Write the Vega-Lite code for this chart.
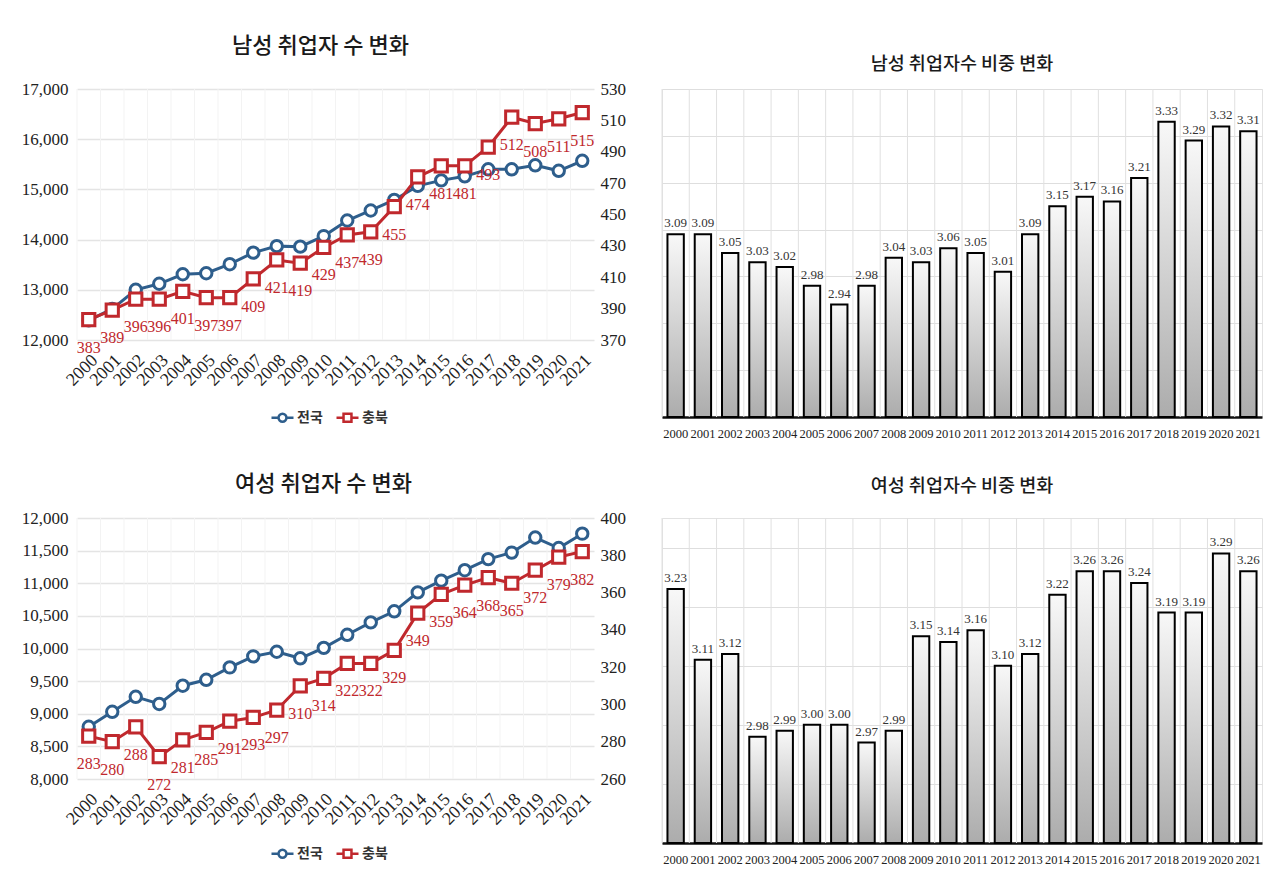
{
  "$schema": "https://vega.github.io/schema/vega-lite/v6.json",
  "autosize": {"type": "pad"},
  "padding": {"left": 21, "top": 35, "right": 0, "bottom": 0},
  "background": "white",
  "datasets": {
    "men": [
      {"year": "2000", "nat": 12390, "cb": 383, "share": 3.09},
      {"year": "2001", "nat": 12620, "cb": 389, "share": 3.09},
      {"year": "2002", "nat": 13000, "cb": 396, "share": 3.05},
      {"year": "2003", "nat": 13120, "cb": 396, "share": 3.03},
      {"year": "2004", "nat": 13310, "cb": 401, "share": 3.02},
      {"year": "2005", "nat": 13330, "cb": 397, "share": 2.98},
      {"year": "2006", "nat": 13510, "cb": 397, "share": 2.94},
      {"year": "2007", "nat": 13740, "cb": 409, "share": 2.98},
      {"year": "2008", "nat": 13870, "cb": 421, "share": 3.04},
      {"year": "2009", "nat": 13860, "cb": 419, "share": 3.03},
      {"year": "2010", "nat": 14070, "cb": 429, "share": 3.06},
      {"year": "2011", "nat": 14380, "cb": 437, "share": 3.05},
      {"year": "2012", "nat": 14580, "cb": 439, "share": 3.01},
      {"year": "2013", "nat": 14790, "cb": 455, "share": 3.09},
      {"year": "2014", "nat": 15070, "cb": 474, "share": 3.15},
      {"year": "2015", "nat": 15180, "cb": 481, "share": 3.17},
      {"year": "2016", "nat": 15260, "cb": 481, "share": 3.16},
      {"year": "2017", "nat": 15400, "cb": 493, "share": 3.21},
      {"year": "2018", "nat": 15400, "cb": 512, "share": 3.33},
      {"year": "2019", "nat": 15480, "cb": 508, "share": 3.29},
      {"year": "2020", "nat": 15370, "cb": 511, "share": 3.32},
      {"year": "2021", "nat": 15570, "cb": 515, "share": 3.31}
    ],
    "women": [
      {"year": "2000", "nat": 8800, "cb": 283, "share": 3.23},
      {"year": "2001", "nat": 9030, "cb": 280, "share": 3.11},
      {"year": "2002", "nat": 9260, "cb": 288, "share": 3.12},
      {"year": "2003", "nat": 9150, "cb": 272, "share": 2.98},
      {"year": "2004", "nat": 9430, "cb": 281, "share": 2.99},
      {"year": "2005", "nat": 9520, "cb": 285, "share": 3.00},
      {"year": "2006", "nat": 9710, "cb": 291, "share": 3.00},
      {"year": "2007", "nat": 9880, "cb": 293, "share": 2.97},
      {"year": "2008", "nat": 9950, "cb": 297, "share": 2.99},
      {"year": "2009", "nat": 9850, "cb": 310, "share": 3.15},
      {"year": "2010", "nat": 10010, "cb": 314, "share": 3.14},
      {"year": "2011", "nat": 10210, "cb": 322, "share": 3.16},
      {"year": "2012", "nat": 10400, "cb": 322, "share": 3.10},
      {"year": "2013", "nat": 10570, "cb": 329, "share": 3.12},
      {"year": "2014", "nat": 10860, "cb": 349, "share": 3.22},
      {"year": "2015", "nat": 11040, "cb": 359, "share": 3.26},
      {"year": "2016", "nat": 11200, "cb": 364, "share": 3.26},
      {"year": "2017", "nat": 11370, "cb": 368, "share": 3.24},
      {"year": "2018", "nat": 11470, "cb": 365, "share": 3.19},
      {"year": "2019", "nat": 11700, "cb": 372, "share": 3.19},
      {"year": "2020", "nat": 11540, "cb": 379, "share": 3.29},
      {"year": "2021", "nat": 11760, "cb": 382, "share": 3.26}
    ]
  },
  "concat": [
    {
      "width": 517, "height": 251,
      "title": {"text": "남성 취업자 수 변화", "font": "Noto Sans CJK KR", "fontSize": 22, "fontWeight": 500, "color": "#1a1a1a", "offset": 22, "anchor": "middle", "dx": -15},
      "data": {"name": "men"},
      "layer": [
        {"mark": {"type": "rule", "color": "#f3f3f3", "strokeWidth": 1},
         "encoding": {"x": {"field": "year", "type": "ordinal", "bandPosition": 0, "scale": {"type": "band", "paddingInner": 0, "paddingOuter": 0},
           "axis": {"title": null, "labelAngle": -45, "labelFont": "Liberation Serif", "labelFontSize": 18, "labelColor": "#222", "domain": false, "ticks": false, "grid": false, "labelPadding": 11}}}},
        {"encoding": {"x": {"field": "year", "type": "ordinal", "bandPosition": 0.5},
           "y": {"field": "nat", "type": "quantitative", "scale": {"domain": [12000, 17000], "nice": false, "zero": false},
             "axis": {"orient": "left", "title": null, "values": [12000, 13000, 14000, 15000, 16000, 17000], "format": ",.0f", "grid": true, "gridColor": "#e4e4e4", "gridWidth": 1.5, "domain": false, "ticks": false, "labelFont": "Liberation Serif", "labelFontSize": 17, "labelColor": "#222", "labelPadding": 9}}},
         "layer": [
           {"mark": {"type": "line", "color": "#2e5e8c", "strokeWidth": 3}},
           {"mark": {"type": "point", "shape": "circle", "filled": true, "fill": "white", "stroke": "#2e5e8c", "strokeWidth": 3, "size": 130, "opacity": 1}}
         ]},
        {"encoding": {"x": {"field": "year", "type": "ordinal", "bandPosition": 0.5},
           "y": {"field": "cb", "type": "quantitative", "scale": {"domain": [370, 530], "nice": false, "zero": false},
             "axis": {"orient": "right", "title": null, "values": [370, 390, 410, 430, 450, 470, 490, 510, 530], "format": ".0f", "grid": false, "domain": false, "ticks": false, "labelFont": "Liberation Serif", "labelFontSize": 17, "labelColor": "#222", "labelPadding": 6}}},
         "layer": [
           {"mark": {"type": "line", "color": "#c0282d", "strokeWidth": 3}},
           {"mark": {"type": "point", "shape": "square", "filled": true, "fill": "white", "stroke": "#c0282d", "strokeWidth": 3, "size": 150, "opacity": 1}},
           {"mark": {"type": "text", "color": "#c0282d", "font": "Liberation Serif", "fontSize": 16, "dy": 28}, "encoding": {"text": {"field": "cb", "type": "quantitative", "format": ".0f"}}}
         ]},
        {"data": {"values": [{"s": "전국"}, {"s": "충북"}]},
         "mark": {"type": "point", "opacity": 0, "filled": false},
         "encoding": {
           "color": {"field": "s", "type": "nominal", "scale": {"domain": ["전국", "충북"], "range": ["#2e5e8c", "#c0282d"]},
             "legend": {"orient": "none", "legendX": 193, "legendY": 316, "direction": "horizontal", "title": null, "labelFont": "Noto Sans CJK KR", "labelFontSize": 14, "labelFontWeight": "bold", "labelColor": "#333", "symbolSize": 484, "symbolStrokeWidth": 2.5, "symbolOpacity": 1, "columnPadding": 8, "labelOffset": 2}},
           "shape": {"field": "s", "type": "nominal", "scale": {"domain": ["전국", "충북"], "range": ["M-1,0H-0.36M0.36,0H1M0.36,0A0.36,0.36,0,1,1,-0.36,0A0.36,0.36,0,1,1,0.36,0", "M-1,0H-0.36M0.36,0H1M-0.36,-0.36H0.36V0.36H-0.36Z"]}}
         }}
      ],
      "resolve": {"scale": {"y": "independent"}}
    },
    {
      "width": 600, "height": 328,
      "title": {"text": "남성 취업자수 비중 변화", "font": "Noto Sans CJK KR", "fontSize": 18.5, "fontWeight": 500, "color": "#1a1a1a", "offset": 15, "anchor": "middle"},
      "data": {"name": "men"},
      "view": {"stroke": "#e2e2e2", "fill": "white"},
      "encoding": {"x": {"field": "year", "type": "ordinal", "scale": {"type": "band", "paddingInner": 0.4, "paddingOuter": 0.2},
        "axis": {"title": null, "labelAngle": 0, "labelFont": "Liberation Serif", "labelFontSize": 12.5, "labelColor": "#222", "domain": true, "domainColor": "#111", "domainWidth": 2.5, "ticks": false, "grid": false, "labelPadding": 10}}},
      "layer": [
        {"mark": {"type": "rule", "color": "#e0e0e0", "strokeWidth": 1}, "encoding": {"x": {"field": "year", "type": "ordinal", "bandPosition": -0.3333}}},
        {"mark": {"type": "bar", "fill": {"gradient": "linear", "x1": 0, "y1": 0, "x2": 0, "y2": 1, "stops": [{"offset": 0, "color": "#f8f8f8"}, {"offset": 1, "color": "#acacac"}]}, "stroke": "#000", "strokeWidth": 2},
         "encoding": {"y": {"field": "share", "type": "quantitative", "scale": {"domain": [2.7, 3.4], "nice": false, "zero": false},
           "axis": {"title": null, "labels": false, "ticks": false, "domain": false, "grid": true, "gridColor": "#dedede", "values": [2.7, 2.8, 2.9, 3.0, 3.1, 3.2, 3.3, 3.4]}},
           "y2": {"datum": 2.7}}},
        {"mark": {"type": "text", "baseline": "bottom", "dy": -4, "font": "Liberation Serif", "fontSize": 13, "color": "#333"},
         "encoding": {"y": {"field": "share", "type": "quantitative"}, "text": {"field": "share", "type": "quantitative", "format": ".2f"}}}
      ]
    },
    {
      "width": 517, "height": 261,
      "title": {"text": "여성 취업자 수 변화", "font": "Noto Sans CJK KR", "fontSize": 22, "fontWeight": 500, "color": "#1a1a1a", "offset": 13, "anchor": "middle", "dx": -12},
      "data": {"name": "women"},
      "layer": [
        {"mark": {"type": "rule", "color": "#f3f3f3", "strokeWidth": 1},
         "encoding": {"x": {"field": "year", "type": "ordinal", "bandPosition": 0, "scale": {"type": "band", "paddingInner": 0, "paddingOuter": 0},
           "axis": {"title": null, "labelAngle": -45, "labelFont": "Liberation Serif", "labelFontSize": 18, "labelColor": "#222", "domain": false, "ticks": false, "grid": false, "labelPadding": 11}}}},
        {"encoding": {"x": {"field": "year", "type": "ordinal", "bandPosition": 0.5},
           "y": {"field": "nat", "type": "quantitative", "scale": {"domain": [8000, 12000], "nice": false, "zero": false},
             "axis": {"orient": "left", "title": null, "values": [8000, 8500, 9000, 9500, 10000, 10500, 11000, 11500, 12000], "format": ",.0f", "grid": true, "gridColor": "#e4e4e4", "gridWidth": 1.5, "domain": false, "ticks": false, "labelFont": "Liberation Serif", "labelFontSize": 17, "labelColor": "#222", "labelPadding": 9}}},
         "layer": [
           {"mark": {"type": "line", "color": "#2e5e8c", "strokeWidth": 3}},
           {"mark": {"type": "point", "shape": "circle", "filled": true, "fill": "white", "stroke": "#2e5e8c", "strokeWidth": 3, "size": 130, "opacity": 1}}
         ]},
        {"encoding": {"x": {"field": "year", "type": "ordinal", "bandPosition": 0.5},
           "y": {"field": "cb", "type": "quantitative", "scale": {"domain": [260, 400], "nice": false, "zero": false},
             "axis": {"orient": "right", "title": null, "values": [260, 280, 300, 320, 340, 360, 380, 400], "format": ".0f", "grid": false, "domain": false, "ticks": false, "labelFont": "Liberation Serif", "labelFontSize": 17, "labelColor": "#222", "labelPadding": 6}}},
         "layer": [
           {"mark": {"type": "line", "color": "#c0282d", "strokeWidth": 3}},
           {"mark": {"type": "point", "shape": "square", "filled": true, "fill": "white", "stroke": "#c0282d", "strokeWidth": 3, "size": 150, "opacity": 1}},
           {"mark": {"type": "text", "color": "#c0282d", "font": "Liberation Serif", "fontSize": 16, "dy": 28}, "encoding": {"text": {"field": "cb", "type": "quantitative", "format": ".0f"}}}
         ]},
        {"data": {"values": [{"s": "전국"}, {"s": "충북"}]},
         "mark": {"type": "point", "opacity": 0, "filled": false},
         "encoding": {
           "color": {"field": "s", "type": "nominal", "scale": {"domain": ["전국", "충북"], "range": ["#2e5e8c", "#c0282d"]},
             "legend": {"orient": "none", "legendX": 193, "legendY": 323, "direction": "horizontal", "title": null, "labelFont": "Noto Sans CJK KR", "labelFontSize": 14, "labelFontWeight": "bold", "labelColor": "#333", "symbolSize": 484, "symbolStrokeWidth": 2.5, "symbolOpacity": 1, "columnPadding": 8, "labelOffset": 2}},
           "shape": {"field": "s", "type": "nominal", "scale": {"domain": ["전국", "충북"], "range": ["M-1,0H-0.36M0.36,0H1M0.36,0A0.36,0.36,0,1,1,-0.36,0A0.36,0.36,0,1,1,0.36,0", "M-1,0H-0.36M0.36,0H1M-0.36,-0.36H0.36V0.36H-0.36Z"]}}
         }}
      ],
      "resolve": {"scale": {"y": "independent"}}
    },
    {
      "width": 600, "height": 325,
      "title": {"text": "여성 취업자수 비중 변화", "font": "Noto Sans CJK KR", "fontSize": 18.5, "fontWeight": 500, "color": "#1a1a1a", "offset": 22, "anchor": "middle"},
      "data": {"name": "women"},
      "view": {"stroke": "#e2e2e2", "fill": "white"},
      "encoding": {"x": {"field": "year", "type": "ordinal", "scale": {"type": "band", "paddingInner": 0.4, "paddingOuter": 0.2},
        "axis": {"title": null, "labelAngle": 0, "labelFont": "Liberation Serif", "labelFontSize": 12.5, "labelColor": "#222", "domain": true, "domainColor": "#111", "domainWidth": 2.5, "ticks": false, "grid": false, "labelPadding": 10}}},
      "layer": [
        {"mark": {"type": "rule", "color": "#e0e0e0", "strokeWidth": 1}, "encoding": {"x": {"field": "year", "type": "ordinal", "bandPosition": -0.3333}}},
        {"mark": {"type": "bar", "fill": {"gradient": "linear", "x1": 0, "y1": 0, "x2": 0, "y2": 1, "stops": [{"offset": 0, "color": "#f8f8f8"}, {"offset": 1, "color": "#acacac"}]}, "stroke": "#000", "strokeWidth": 2},
         "encoding": {"y": {"field": "share", "type": "quantitative", "scale": {"domain": [2.8, 3.35], "nice": false, "zero": false},
           "axis": {"title": null, "labels": false, "ticks": false, "domain": false, "grid": true, "gridColor": "#dedede", "values": [2.8, 2.85, 2.9, 2.95, 3.0, 3.05, 3.1, 3.15, 3.2, 3.25, 3.3, 3.35]}},
           "y2": {"datum": 2.8}}},
        {"mark": {"type": "text", "baseline": "bottom", "dy": -4, "font": "Liberation Serif", "fontSize": 13, "color": "#333"},
         "encoding": {"y": {"field": "share", "type": "quantitative"}, "text": {"field": "share", "type": "quantitative", "format": ".2f"}}}
      ]
    }
  ],
  "columns": 2,
  "bounds": "flush",
  "align": "each",
  "spacing": {"row": 101, "column": 68},
  "resolve": {"scale": {"color": "independent", "shape": "independent"}, "legend": {"color": "independent", "shape": "independent"}},
  "config": {"view": {"stroke": null}}
}
